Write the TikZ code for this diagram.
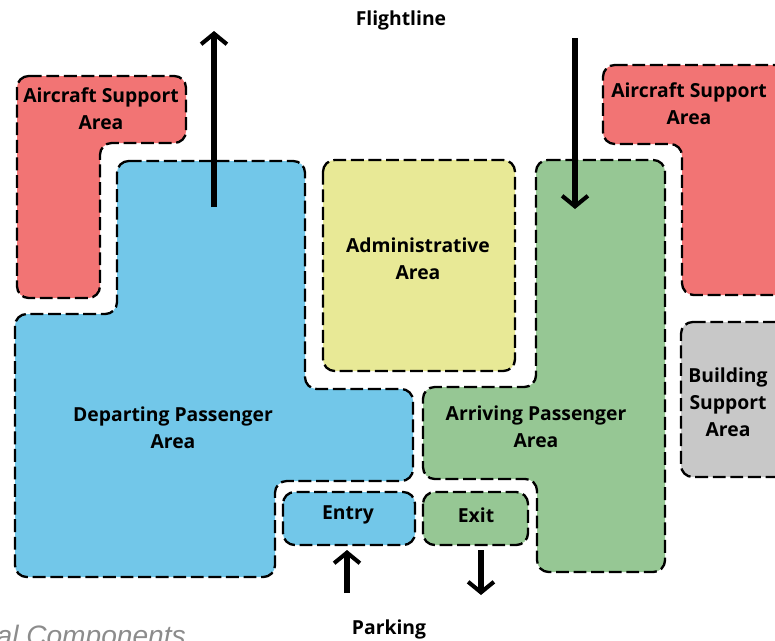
\documentclass[tikz,border=0pt]{standalone}
\usepackage{fontspec}
\setmainfont{Open Sans}
\newfontfamily\captionfont{Liberation Sans}
\usetikzlibrary{arrows.meta}
\definecolor{aircraftred}{RGB}{242,116,116}
\definecolor{departblue}{RGB}{114,199,233}
\definecolor{adminyellow}{RGB}{232,233,150}
\definecolor{arrivegreen}{RGB}{150,199,148}
\definecolor{buildgray}{RGB}{200,200,200}
\definecolor{captiongray}{RGB}{140,140,140}
\tikzset{
  area/.style={draw=black, line width=2pt, dash pattern=on 11pt off 4pt,
    rounded corners=10pt, preaction={draw=white, line width=2pt, solid}},
  lbl/.style={font=\bfseries\fontsize{16.5}{23}\selectfont, align=center},
  flow/.style={line width=4.5pt,
    -{Straight Barb[length=9pt,width=22pt,line width=3.5pt]}},
}
\begin{document}
\begin{tikzpicture}[x=0.03cm,y=-0.03cm]
\useasboundingbox (0,0) rectangle (775,641);
\clip (0,0) rectangle (775,641);
% areas
\draw[area,fill=aircraftred] (17,76) -- (186,76) -- (186,143) -- (100,143) -- (100,298) -- (17,298) -- cycle;
\draw[area,fill=aircraftred] (603,65) -- (795,65) -- (795,295) -- (682,295) -- (682,144) -- (603,144) -- cycle;
\draw[area,fill=departblue] (117,161) -- (305,161) -- (305,389) -- (413,389) -- (413,481) -- (275,481) -- (275,577) -- (15,577) -- (15,314) -- (117,314) -- cycle;
\draw[area,fill=adminyellow] (323,160) rectangle (515,371);
\draw[area,fill=arrivegreen] (536,160) -- (665,160) -- (665,572) -- (537,572) -- (537,479) -- (423,479) -- (423,387) -- (536,387) -- cycle;
\draw[area,fill=buildgray] (681,322) -- (795,322) -- (795,477) -- (681,477) -- cycle;
\draw[area,fill=departblue] (283,492) rectangle (415,545);
\draw[area,fill=arrivegreen] (423,492) rectangle (528,545);
% labels
\node[lbl] (acleft) at (101,109) {Aircraft Support\\Area};
\node[lbl] (acright) at (689,104) {Aircraft Support\\Area};
\node[lbl] (admin) at (418,259) {Administrative\\Area};
\node[lbl] (depart) at (173,428) {Departing Passenger\\Area};
\node[lbl] (arrive) at (536,427) {Arriving Passenger\\Area};
\node[lbl] (build) at (728,402) {Building\\Support\\Area};
\node[lbl] (entry) at (348,515) {Entry};
\node[lbl] (exit) at (476,515) {Exit};
\node[lbl] (flightline) at (401,20) {Flightline};
\node[lbl] (parking) at (389,629) {Parking};
\node[font=\captionfont\itshape\fontsize{24}{28}\selectfont, text=captiongray, anchor=north east, inner sep=0pt] (caption) at (186,625) {al Components};
% flows
\coordinate (outstart) at (214,207);
\coordinate (outend) at (214,31);
\coordinate (instart) at (575,38);
\coordinate (inend) at (575,209);
\coordinate (parkin) at (347,593);
\coordinate (entrytip) at (347,550);
\coordinate (exittop) at (481,550);
\coordinate (parkout) at (481,595);
\path[draw,flow] (outstart) -- (outend);
\path[draw,flow] (instart) -- (inend);
\path[draw,flow] (parkin) -- (entrytip);
\path[draw,flow] (exittop) -- (parkout);
\end{tikzpicture}
\end{document}
